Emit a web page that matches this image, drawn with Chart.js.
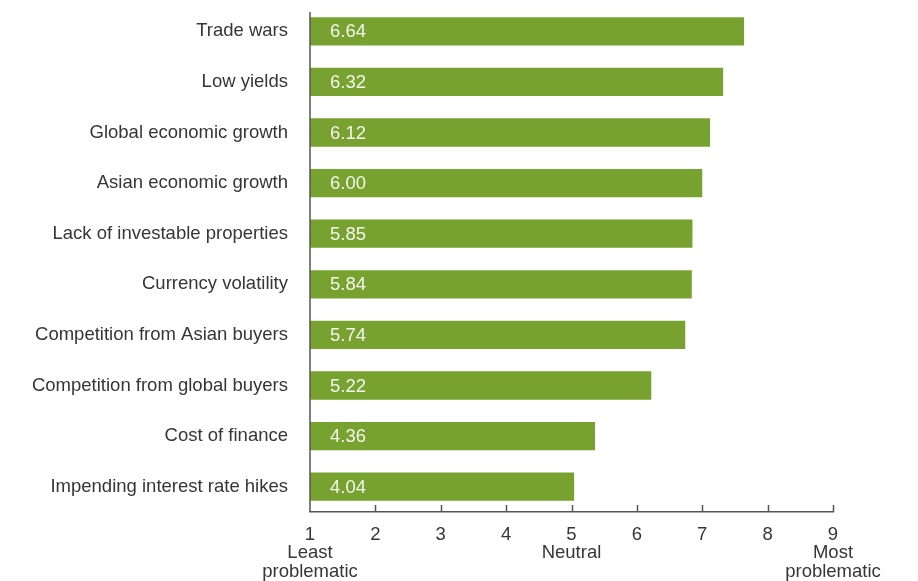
<!DOCTYPE html>
<html>
<head>
<meta charset="utf-8">
<script src="https://cdn.jsdelivr.net/npm/chart.js@4/dist/chart.umd.min.js"></script>
<style>
  html, body { margin: 0; padding: 0; background: #fff; }
  #wrap { width: 918px; height: 581px; position: relative; }
</style>
</head>
<body>
<div id="wrap"><canvas id="c" width="918" height="581"></canvas></div>
<script>
// Concerns, ranked by mean score (scale 1 = least problematic, 9 = most problematic)
const categories = [
  'Trade wars',
  'Low yields',
  'Global economic growth',
  'Asian economic growth',
  'Lack of investable properties',
  'Currency volatility',
  'Competition from Asian buyers',
  'Competition from global buyers',
  'Cost of finance',
  'Impending interest rate hikes'
];
const scores = [6.64, 6.32, 6.12, 6.00, 5.85, 5.84, 5.74, 5.22, 4.36, 4.04];

// Axis tick labels, with the descriptive anchors under 1, 5 and 9
const tickNumbers = ['1', '2', '3', '4', '5', '6', '7', '8', '9'];
const tickNotes = { '1': ['Least', 'problematic'], '5': ['Neutral'], '9': ['Most', 'problematic'] };

const FONT = '"Liberation Sans", Arial, sans-serif';
const TEXT = '#363636';
const AXIS = '#555555';
const GREEN = '#78a22f';

// Bar value labels drawn just inside the left end of each bar
const valueLabels = {
  id: 'valueLabels',
  afterDatasetsDraw(chart) {
    const { ctx } = chart;
    const meta = chart.getDatasetMeta(0);
    const xs = chart.scales.x;
    ctx.save();
    ctx.font = '18.5px ' + FONT;
    ctx.fillStyle = '#f4f6ee';
    ctx.textAlign = 'left';
    ctx.textBaseline = 'middle';
    meta.data.forEach((bar, i) => {
      ctx.fillText(scores[i].toFixed(2), xs.left + 20, bar.y + 1);
    });
    ctx.restore();
  }
};

// Vertical axis line (starting a little below the plot top) and
// short tick marks pointing up from the x axis into the plot
const axisMarks = {
  id: 'axisMarks',
  afterDraw(chart) {
    const { ctx, chartArea } = chart;
    const xs = chart.scales.x;
    ctx.save();
    ctx.strokeStyle = AXIS;
    ctx.lineWidth = 1.5;
    ctx.beginPath();
    const x0 = xs.getPixelForValue(0);
    ctx.moveTo(x0, chartArea.top + 6);
    ctx.lineTo(x0, chartArea.bottom);
    for (let v = 1; v <= 8; v++) {
      const px = Math.round(xs.getPixelForValue(v)) + 0.5;
      ctx.moveTo(px, xs.top - 7);
      ctx.lineTo(px, xs.top);
    }
    ctx.stroke();
    ctx.restore();
  }
};

new Chart(document.getElementById('c'), {
  type: 'bar',
  data: {
    labels: categories,
    datasets: [{
      data: scores,
      backgroundColor: GREEN,
      borderWidth: 0,
      barPercentage: 0.56,
      categoryPercentage: 1.0
    }]
  },
  options: {
    indexAxis: 'y',
    responsive: false,
    animation: false,
    events: [],
    layout: { padding: { top: 6, right: 85, bottom: 0, left: 0 } },
    plugins: { legend: { display: false }, tooltip: { enabled: false } },
    scales: {
      x: {
        type: 'linear',
        min: 0,
        max: 8,
        grid: { display: false, drawTicks: false },
        border: { display: true, color: AXIS, width: 1.5 },
        afterFit(scale) { scale.height = 69; },
        ticks: {
          stepSize: 1,
          padding: 13,
          color: TEXT,
          maxRotation: 0,
          autoSkip: false,
          font: { family: FONT, size: 18.5, lineHeight: 1.02 },
          callback(value) {
            const n = tickNumbers[value];
            const notes = tickNotes[n];
            return notes ? [n].concat(notes) : n;
          }
        }
      },
      y: {
        grid: { display: false, drawTicks: false },
        border: { display: false },
        afterFit(scale) {
          scale.width = 310;
          scale.paddingTop = 0;
          scale.paddingBottom = 0;
        },
        ticks: {
          padding: 22,
          color: TEXT,
          autoSkip: false,
          font: { family: FONT, size: 18.5 }
        }
      }
    }
  },
  plugins: [valueLabels, axisMarks]
});
</script>
</body>
</html>
